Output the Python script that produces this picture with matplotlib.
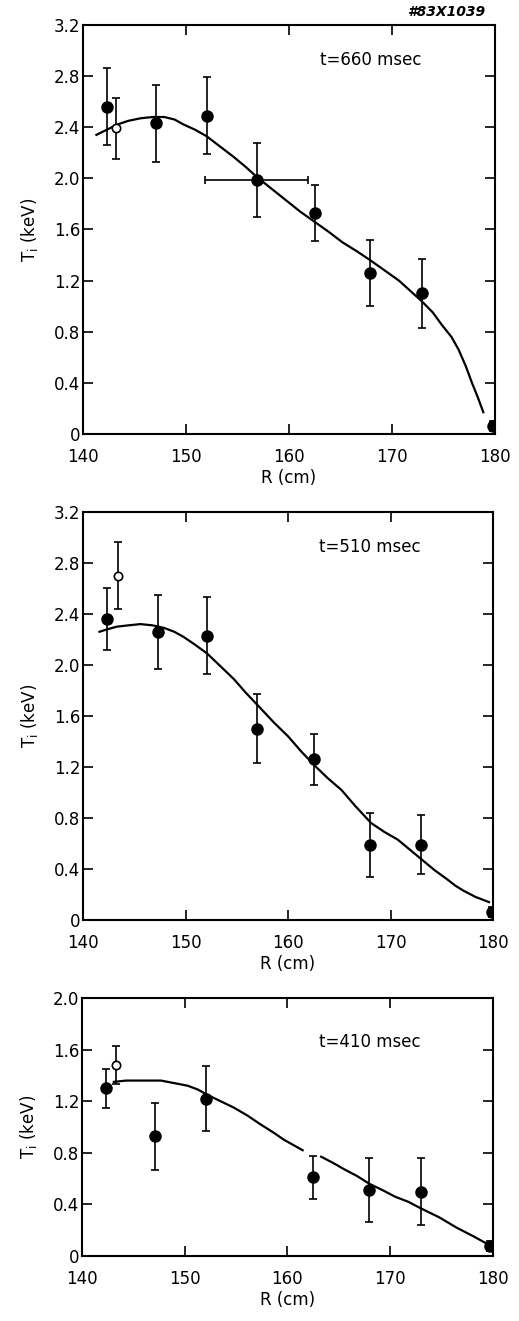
'''
Ion temperature profiles T_i(R) at three times
'''

import numpy as np
import matplotlib.pyplot as plt

plt.rcParams['font.family'] = 'DejaVu Sans'

# t = 660 msec
r660 = [142.3, 147.1, 152.0, 156.9, 162.5, 167.9, 172.9, 179.8]
t660 = [2.56, 2.43, 2.49, 1.99, 1.73, 1.26, 1.10, 0.06]
e660 = [0.30, 0.30, 0.30, 0.29, 0.22, 0.26, 0.27, 0.04]
xe660 = [0, 0, 0, 5.0, 0, 0, 0, 0]
r660_open, t660_open, e660_open = [143.2], [2.39], [0.24]
fit660_r = [141.3, 142.3, 143.3, 144.4, 145.6, 146.8, 147.9, 148.9, 149.8,
            150.9, 152.0, 153.3, 154.6, 155.8, 156.9, 158.3, 159.7, 161.1,
            162.5, 163.9, 165.2, 166.6, 167.9, 169.3, 170.7, 171.8, 172.9,
            174.0, 174.9, 175.8, 176.5, 177.2, 177.8, 178.4, 178.9]
fit660_t = [2.34, 2.38, 2.42, 2.45, 2.47, 2.48, 2.48, 2.46, 2.42,
            2.38, 2.33, 2.25, 2.17, 2.09, 2.01, 1.92, 1.83, 1.74,
            1.66, 1.58, 1.50, 1.43, 1.36, 1.28, 1.20, 1.12, 1.04,
            0.95, 0.85, 0.76, 0.66, 0.53, 0.40, 0.28, 0.17]

# t = 510 msec
r510 = [142.3, 147.3, 152.1, 157.0, 162.5, 168.0, 173.0, 179.9]
t510 = [2.36, 2.26, 2.23, 1.50, 1.26, 0.59, 0.59, 0.06]
e510 = [0.24, 0.29, 0.30, 0.27, 0.20, 0.25, 0.23, 0.04]
r510_open, t510_open, e510_open = [143.4], [2.70], [0.26]
fit510_r = [141.6, 142.4, 143.3, 144.4, 145.6, 146.8, 147.9, 148.9, 149.8,
            150.9, 152.1, 153.4, 154.7, 155.9, 157.2, 158.6, 160.0, 161.3,
            162.6, 163.9, 165.2, 166.6, 168.1, 169.4, 170.7, 171.9, 173.1,
            174.3, 175.5, 176.3, 177.1, 178.3, 179.6]
fit510_t = [2.26, 2.28, 2.30, 2.31, 2.32, 2.31, 2.29, 2.26, 2.22,
            2.16, 2.09, 1.99, 1.89, 1.78, 1.67, 1.55, 1.44, 1.32,
            1.21, 1.11, 1.02, 0.89, 0.76, 0.69, 0.63, 0.55, 0.47,
            0.39, 0.32, 0.27, 0.23, 0.18, 0.14]

# t = 410 msec
r410 = [142.3, 147.1, 152.1, 162.5, 168.0, 173.0, 179.8]
t410 = [1.30, 0.93, 1.22, 0.61, 0.51, 0.50, 0.075]
e410 = [0.15, 0.26, 0.25, 0.165, 0.25, 0.26, 0.04]
r410_open, t410_open, e410_open = [143.3], [1.48], [0.15]
fit410_r = [143.1, 144.3, 145.5, 146.6, 147.7, 149.0, 150.3, 151.3, 152.2,
            153.5, 154.8, 156.1, 157.4, 158.6, 159.7, 160.6, 161.5,
            np.nan, 163.3, 164.5, 165.6, 166.8, 168.0, 169.3, 170.5, 171.8,
            173.0, 174.8, 176.5, 178.2, 179.8]
fit410_t = [1.35, 1.36, 1.36, 1.36, 1.36, 1.34, 1.32, 1.29, 1.25,
            1.20, 1.15, 1.09, 1.02, 0.96, 0.90, 0.86, 0.82,
            np.nan, 0.77, 0.72, 0.67, 0.62, 0.56, 0.51, 0.46, 0.42,
            0.37, 0.30, 0.22, 0.15, 0.08]

panels = [
    ([0.160, 0.6715, 0.793, 0.3096], r660, t660, e660, xe660,
     r660_open, t660_open, e660_open, fit660_r, fit660_t, 3.2, 't=660 msec'),
    ([0.160, 0.3036, 0.790, 0.3089], r510, t510, e510, None,
     r510_open, t510_open, e510_open, fit510_r, fit510_t, 3.2, 't=510 msec'),
    ([0.158, 0.0492, 0.791, 0.1953], r410, t410, e410, None,
     r410_open, t410_open, e410_open, fit410_r, fit410_t, 2.0, 't=410 msec'),
]

fig = plt.figure(figsize=(5.19, 13.21), dpi=100)

for (pos, r, t, e, xe, ro, to, eo, fr, ft, ymax, label) in panels:
    ax = fig.add_axes(pos)
    ax.plot(fr, ft, color='black', lw=1.6)
    ax.errorbar(r, t, yerr=e, xerr=xe, fmt='o', color='black', ms=8,
                ecolor='black', elinewidth=1.2, capsize=3, capthick=1.2)
    ax.errorbar(ro, to, yerr=eo, fmt='o', mfc='white', mec='black', ms=6,
                mew=1.2, ecolor='black', elinewidth=1.2, capsize=3,
                capthick=1.2)
    ax.set_xlim(140, 180)
    ax.set_ylim(0, ymax)
    ax.set_xticks([140, 150, 160, 170, 180])
    yt = np.arange(0, ymax + 0.01, 0.4)
    ax.set_yticks(yt)
    ax.set_yticklabels(['0'] + ['%.1f' % v for v in yt[1:]])
    ax.tick_params(direction='in', top=True, right=True, length=7,
                   width=1.2, labelsize=12)
    ax.tick_params(axis='x', pad=10)
    ax.tick_params(axis='y', pad=2)
    for s in ax.spines.values():
        s.set_linewidth(1.5)
    ax.set_xlabel('R (cm)', fontsize=12, labelpad=2)
    ax.set_ylabel('T$_\\mathregular{i}$ (keV)', fontsize=12, labelpad=10)
    ax.text(0.70, 0.915 if ymax > 2 else 0.83, label, transform=ax.transAxes,
            ha='center', va='center', fontsize=12)

fig.text(0.86, 0.991, '#83X1039', ha='center', va='center', fontsize=10,
         style='italic', weight='bold')

fig.savefig('out.png', dpi=100)
